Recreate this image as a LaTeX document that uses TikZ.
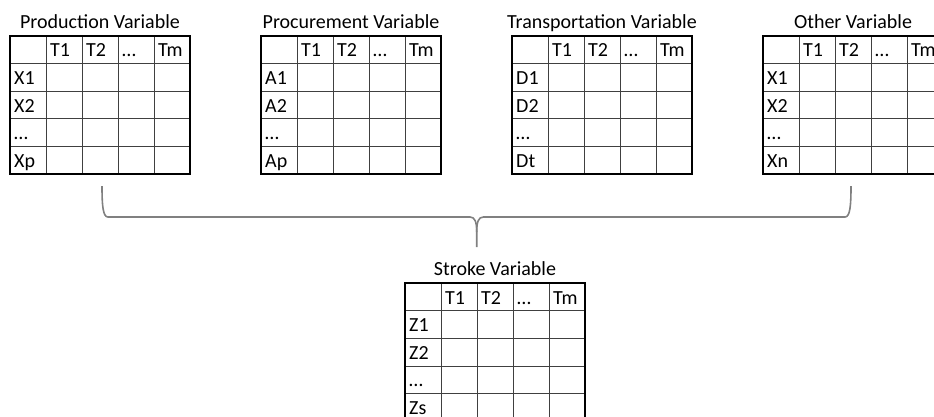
\documentclass[tikz,border=0pt]{standalone}
\usepackage{fontspec}
\setmainfont{Carlito}
\tikzset{
  title/.style={anchor=base, inner sep=0pt, font=\fontsize{20}{24}\selectfont},
  cell/.style={anchor=base west, inner sep=0pt, font=\fontsize{20}{24}\selectfont},
  inner/.style={draw=black!75, line width=0.9pt},
  outer/.style={draw=black, line width=1.8pt},
  bracepath/.style={draw=black!50, line width=1.6pt, line join=round}
}
\newcommand{\vartable}[5]{%
  \begin{scope}[shift={(#2,#3)}]
    \node[title] (#1-title) at (90,-7.5) {#4};
    \foreach \c in {1,...,4} \draw[inner] (36*\c,0) -- (36*\c,138);
    \foreach \r in {1,...,4} \draw[inner] (0,27.6*\r) -- (180,27.6*\r);
    \draw[outer] (0,0) rectangle (180,138);
    \foreach \h [count=\i] in {T1,T2,…,Tm}
      \node[cell] (#1-h\i) at (36*\i+4,20.8) {\h};
    \foreach \lab [count=\i] in {#5}
      \node[cell] (#1-r\i) at (4,27.6*\i+20.8) {\lab};
  \end{scope}}
\begin{document}
\begin{tikzpicture}[x=1pt,y=-1pt]
\useasboundingbox (0,0) rectangle (934,416);
\vartable{prod}{10}{36}{Production Variable}{X1,X2,…,Xp}
\vartable{proc}{261}{36}{Procurement Variable}{A1,A2,…,Ap}
\vartable{trans}{512}{36}{Transportation Variable}{D1,D2,…,Dt}
\vartable{other}{763}{36}{Other Variable}{X1,X2,…,Xn}
\vartable{stroke}{405}{283.3}{Stroke Variable}{Z1,Z2,…,Zs}
% brace
\coordinate (bl) at (102,186);
\coordinate (br) at (851,186);
\coordinate (bt) at (476.7,247);
\draw[bracepath] (bl) .. controls (102,206) and (103,217) .. (108,217)
  -- (470,217) .. controls (475,217) and (476.7,222) .. (476.7,232) -- (bt);
\draw[bracepath] (br) .. controls (851,206) and (850,217) .. (845,217)
  -- (483.4,217) .. controls (478.4,217) and (476.7,222) .. (476.7,232);
\end{tikzpicture}
\end{document}
